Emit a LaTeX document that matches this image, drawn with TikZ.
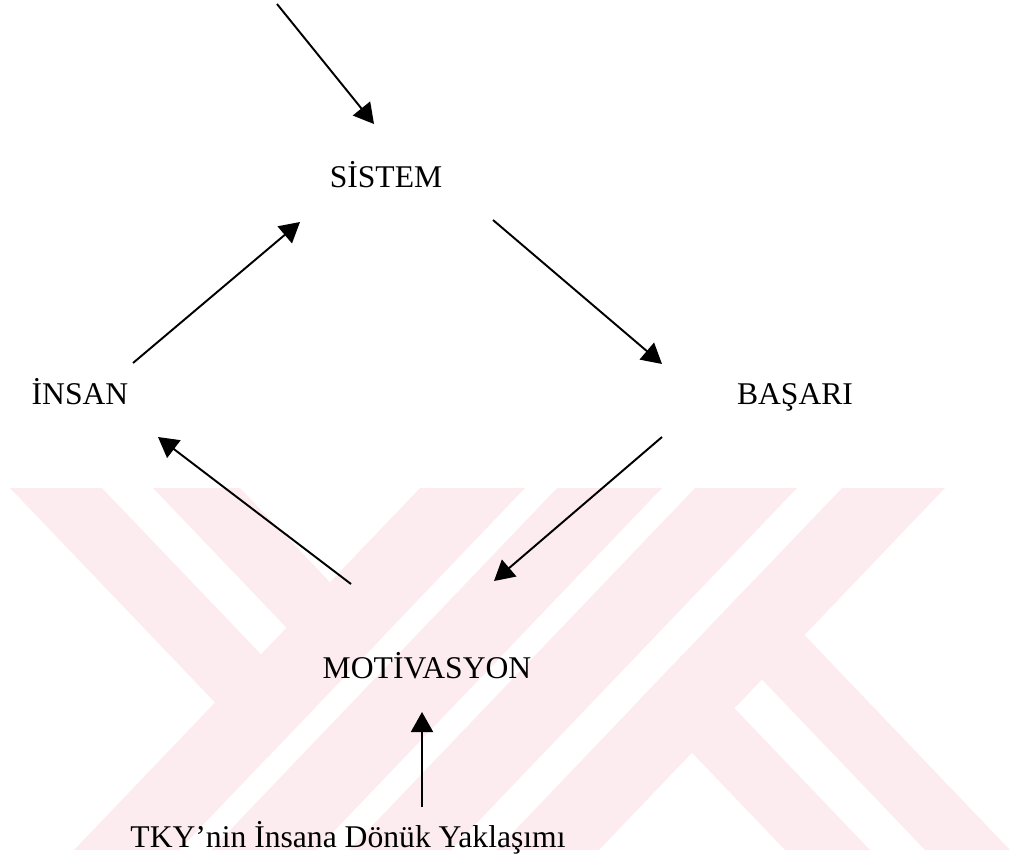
\documentclass[tikz,border=0pt]{standalone}
\usepackage{fontspec}
\setmainfont{Liberation Serif}
\usetikzlibrary{arrows.meta}
\definecolor{wmpink}{RGB}{252,236,239}
\begin{document}
\begin{tikzpicture}[x=0.02cm,y=-0.02cm,
  lbl/.style={anchor=base,inner sep=0pt,font=\fontsize{18}{21.6}\selectfont},
  flow/.style={-{Triangle[length=0.4cm,width=0.44cm]},line width=1.1pt},
  wm/.style={fill=wmpink}]
\useasboundingbox (0,0) rectangle (1010,859);

% background emblem: two full-height "/" bands
\fill[wm] (420,488)--(525,488)--(179,850)--(74,850)--cycle;
\fill[wm] (557,488)--(662,488)--(316,850)--(211,850)--cycle;
\fill[wm] (695,488)--(797,488)--(451,850)--(349,850)--cycle;
\fill[wm] (842,488)--(945,488)--(599,850)--(496,850)--cycle;
% upper-left "\" arm, ending in the left "/" band
\begin{scope}
  \clip (0,488)--(525,488)--(179,850)--(0,850)--cycle;
  \fill[wm] (10,488)--(102,488)--(448,850)--(356,850)--cycle;
  \fill[wm] (153,488)--(240,488)--(586,850)--(499,850)--cycle;
\end{scope}
% lower-right "\" arm, ending in the right "/" band
\begin{scope}
  \clip (842,488)--(1010,488)--(1010,850)--(496,850)--cycle;
  \fill[wm] (439,488)--(524,488)--(870,850)--(785,850)--cycle;
  \fill[wm] (579,488)--(664,488)--(1010,850)--(925,850)--cycle;
\end{scope}

% labels
\node[lbl] (sistem) at (386,187) {SİSTEM};
\node[lbl] (insan)  at (80,404)  {İNSAN};
\node[lbl] (basari) at (795,404) {BAŞARI};
\node[lbl] (motiv)  at (427,678) {MOTİVASYON};
\node[lbl] (tky)    at (348,847) {TKY’nin İnsana Dönük Yaklaşımı};

% connector end points
\coordinate (top-start) at (277,4);
\coordinate (sis-in-top) at (374,124);
\coordinate (ins-out) at (133,363);
\coordinate (sis-in) at (300,222);
\coordinate (sis-out) at (493,220);
\coordinate (bas-in) at (662,364);
\coordinate (bas-out) at (662,437);
\coordinate (mot-in) at (494,581);
\coordinate (mot-out) at (351,584);
\coordinate (ins-in) at (158,437);
\coordinate (tky-out) at (422,807);
\coordinate (mot-in-low) at (422,712);

% cycle arrows
\draw[flow] (top-start) -- (sis-in-top);
\draw[flow] (ins-out) -- (sis-in);
\draw[flow] (sis-out) -- (bas-in);
\draw[flow] (bas-out) -- (mot-in);
\draw[flow] (mot-out) -- (ins-in);
\draw[flow] (tky-out) -- (mot-in-low);
\end{tikzpicture}
\end{document}
